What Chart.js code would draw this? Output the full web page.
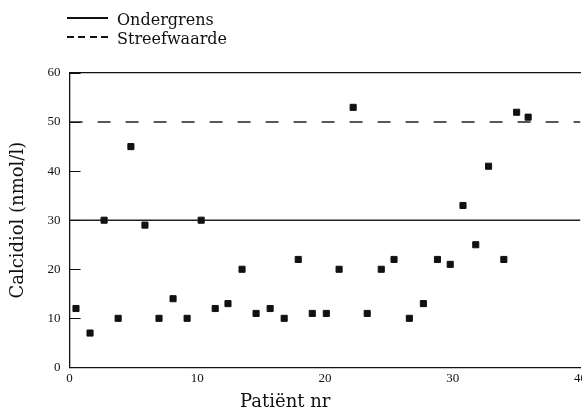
<!DOCTYPE html>
<html>
<head>
<meta charset="utf-8">
<script src="https://cdn.jsdelivr.net/npm/chart.js@4.4.1/dist/chart.umd.min.js"></script>
<style>
  html, body { margin: 0; padding: 0; background: #fff; overflow: hidden; }
  #wrap { position: relative; width: 590px; height: 409px; }
  .txt { position: absolute; font-family: "DejaVu Serif", serif; color: #111; white-space: nowrap; }
  .row { left: 67px; font-size: 16px; height: 20px; line-height: 20px; }
  .sw { display: inline-block; width: 41px; height: 1.5px; vertical-align: middle; margin-right: 9px; position: relative; top: -2.5px; }
  .solid { background: #111; }
  .dash { background: repeating-linear-gradient(to right, #111 0 7px, transparent 7px 11.3px); }
  .xtitle { left: 240px; top: 391px; font-size: 18px; line-height: 20px; }
</style>
</head>
<body>
<div id="wrap">
  <canvas id="chart"></canvas>
  <div class="txt row" style="top:10px"><span class="sw solid"></span>Ondergrens</div>
  <div class="txt row" style="top:29px"><span class="sw dash"></span>Streefwaarde</div>
  <div class="txt xtitle">Patiënt nr</div>
</div>
<script>
// Patient position on the x axis and calcidiol level (nmol/l)
const patientNr = [0.5, 1.6, 2.7, 3.8, 4.8, 5.9, 7.0, 8.1, 9.2, 10.3, 11.4, 12.4, 13.5, 14.6,
  15.7, 16.8, 17.9, 19.0, 20.1, 21.1, 22.2, 23.3, 24.4, 25.4, 26.6, 27.7, 28.8, 29.8, 30.8,
  31.8, 32.8, 34.0, 35.0, 35.9];
const calcidiol = [12, 7, 30, 10, 45, 29, 10, 14, 10, 30, 12, 13, 20, 11, 12, 10, 22, 11, 11,
  20, 53, 11, 20, 22, 10, 13, 22, 21, 33, 25, 41, 22, 52, 51];

const lineX = [0, 40];
const ondergrens = 30;
const streefwaarde = 50;
const yTicks = [0, 10, 20, 30, 40, 50, 60];
const xTicks = [0, 10, 20, 30, 40];

const ink = '#111';
const tickFont = { family: 'Liberation Serif', size: 13 };
const titleFont = { family: 'DejaVu Serif', size: 18 };

// short tick marks pointing into the plot from the y axis
const innerTicks = {
  id: 'innerTicks',
  afterDraw(chart) {
    const y = chart.scales.y;
    const left = chart.chartArea.left;
    const ctx = chart.ctx;
    ctx.save();
    ctx.strokeStyle = ink;
    ctx.lineWidth = 1.2;
    ctx.beginPath();
    yTicks.forEach(v => {
      const py = Math.round(y.getPixelForValue(v)) + 0.5;
      ctx.moveTo(left, py);
      ctx.lineTo(left + 11, py);
    });
    ctx.stroke();
    ctx.restore();
  }
};

new Chart(document.getElementById('chart'), {
  type: 'scatter',
  data: {
    datasets: [
      {
        label: 'Patiënten',
        data: patientNr.map((x, i) => ({ x: x, y: calcidiol[i] })),
        pointStyle: 'rect',
        pointRadius: 4.3,
        backgroundColor: ink,
        borderColor: ink,
        borderWidth: 1
      },
      {
        label: 'Ondergrens',
        type: 'line',
        data: lineX.map(x => ({ x: x, y: ondergrens })),
        borderColor: '#222',
        borderWidth: 1.4,
        pointRadius: 0
      },
      {
        label: 'Streefwaarde',
        type: 'line',
        data: lineX.map(x => ({ x: x, y: streefwaarde })),
        borderColor: '#222',
        borderWidth: 1.4,
        borderDash: [13, 15],
        pointRadius: 0
      }
    ]
  },
  options: {
    responsive: true,
    maintainAspectRatio: false,
    animation: false,
    layout: { padding: { left: 0, top: 73, right: 0, bottom: 20 } },
    plugins: { legend: { display: false }, tooltip: { enabled: false } },
    scales: {
      x: {
        type: 'linear', min: 0, max: 40,
        afterBuildTicks: s => { s.ticks = xTicks.map(v => ({ value: v })); },
        grid: { display: false, drawTicks: false },
        border: { display: true, color: ink, width: 1.3 },
        ticks: { color: ink, font: tickFont, padding: 3, maxRotation: 0 }
      },
      xTop: {
        type: 'linear', position: 'top', min: 0, max: 40,
        grid: { display: false, drawTicks: false },
        border: { display: true, color: ink, width: 1.3 },
        ticks: { display: false }
      },
      y: {
        type: 'linear', min: 0, max: 60,
        afterBuildTicks: s => { s.ticks = yTicks.map(v => ({ value: v })); },
        grid: { display: false, drawTicks: false },
        border: { display: true, color: ink, width: 1.3 },
        ticks: { color: ink, font: tickFont, padding: 9 },
        title: { display: true, text: 'Calcidiol (nmol/l)', color: ink, font: titleFont, padding: { top: 8, bottom: 9 } }
      }
    }
  },
  plugins: [innerTicks]
});
</script>
</body>
</html>
